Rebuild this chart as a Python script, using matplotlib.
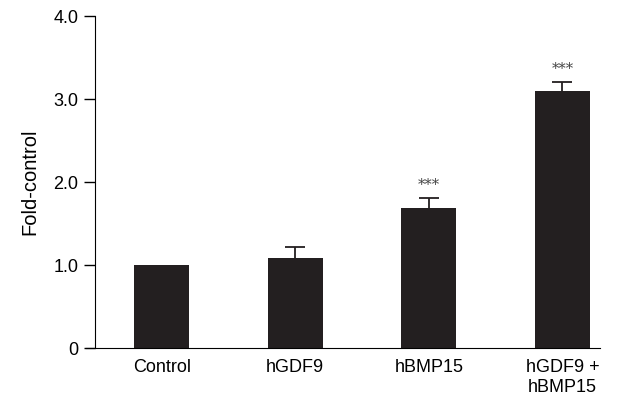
import matplotlib
matplotlib.use('Agg')
import matplotlib.pyplot as plt

plt.rcParams['font.family'] = ['Liberation Sans', 'DejaVu Sans']

groups = ['Control', 'hGDF9', 'hBMP15', 'hGDF9 +\nhBMP15']
means = [1.0, 1.09, 1.69, 3.10]
errs = [0.0, 0.13, 0.12, 0.11]
stars = ['', '', '***', '***']

fig = plt.figure(figsize=(6.27, 4.01), dpi=100)
ax = fig.add_axes([0.1515, 0.132, 0.805, 0.828])

x = list(range(len(groups)))
ax.bar(x, means, width=0.41, color='#231f20', zorder=2)
for i in range(len(groups)):
    if errs[i] > 0:
        ax.errorbar(x[i], means[i] - 0.05, yerr=[[0], [errs[i] + 0.05]], fmt='none',
                    ecolor='#231f20', elinewidth=1.3, capsize=7, capthick=1.3, zorder=1)
    if stars[i]:
        ax.text(x[i], means[i] + errs[i] + 0.07, stars[i], ha='center', va='bottom',
                fontsize=10.5, color='#444444', family='DejaVu Serif')

ax.set_xlim(-0.5, 3.28)
ax.set_ylim(0, 4.0)
ax.set_yticks([0, 1, 2, 3, 4])
ax.set_yticklabels(['0', '1.0', '2.0', '3.0', '4.0'])
ax.set_xticks(x)
ax.set_xticklabels(groups)
ax.tick_params(axis='x', length=0, pad=8, labelsize=13)
ax.tick_params(axis='y', length=8, width=1, labelsize=13, pad=4)
ax.set_ylabel('Fold-control', fontsize=14.5, labelpad=10)
ax.spines['top'].set_visible(False)
ax.spines['right'].set_visible(False)
ax.spines['bottom'].set_bounds(-0.57, 3.28)
ax.spines['bottom'].set_position(('data', 0))

plt.savefig('out.png', dpi=100)
